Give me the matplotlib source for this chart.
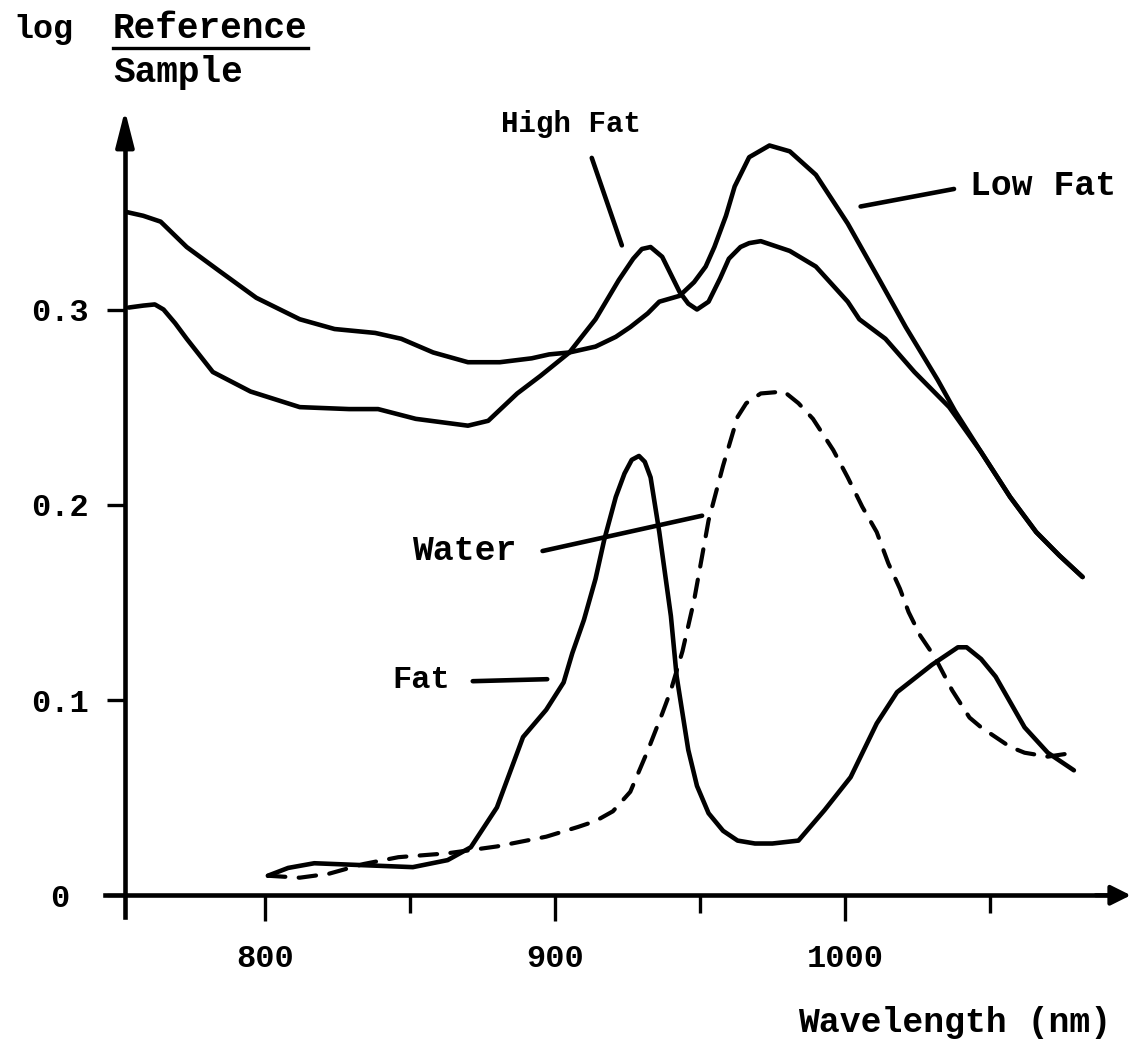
import matplotlib
matplotlib.use("Agg")
import matplotlib.pyplot as plt

# spectra: wavelength (nm) and log(Reference/Sample)
low_fat_wl = [752, 758, 764, 773, 784, 797, 812, 824, 838, 847, 858, 870, 881, 892, 898, 905,
              914, 921, 926, 932, 936, 943, 948, 952, 955, 959, 962, 967, 974, 981, 990, 1001,
              1012, 1021, 1032, 1038, 1047, 1057, 1066, 1074, 1082]
low_fat_val = [0.350, 0.348, 0.345, 0.332, 0.320, 0.306, 0.295, 0.290, 0.288, 0.285, 0.278, 0.273,
               0.273, 0.275, 0.277, 0.278, 0.281, 0.286, 0.291, 0.298, 0.304, 0.307, 0.314, 0.322,
               0.332, 0.348, 0.363, 0.378, 0.384, 0.381, 0.369, 0.344, 0.315, 0.291, 0.264, 0.248,
               0.227, 0.204, 0.186, 0.174, 0.163]

high_fat_wl = [753, 758, 762, 765, 769, 773, 782, 795, 812, 829, 839, 852, 870, 877, 887, 895,
               905, 914, 922, 927, 930, 933, 937, 940, 943, 946, 949, 953, 957, 960, 964, 967,
               971, 981, 990, 1001, 1005, 1014, 1024, 1036, 1047, 1057, 1066, 1074, 1082]
high_fat_val = [0.301, 0.302, 0.3026, 0.300, 0.293, 0.285, 0.268, 0.258, 0.250, 0.249, 0.249,
                0.244, 0.2405, 0.243, 0.257, 0.266, 0.278, 0.295, 0.315, 0.326, 0.331, 0.332,
                0.327, 0.318, 0.309, 0.303, 0.300, 0.304, 0.316, 0.326, 0.332, 0.334, 0.335,
                0.330, 0.322, 0.304, 0.295, 0.285, 0.268, 0.250, 0.227, 0.204, 0.186, 0.174, 0.163]

fat_wl = [801, 808, 817, 834, 851, 863, 871, 880, 889, 897, 903, 906, 910, 914, 917, 921, 924,
          926.5, 929, 931, 933, 936, 940, 942, 946, 949, 953, 958, 963, 969, 975, 984, 993, 1002,
          1011, 1018, 1024, 1030, 1035, 1039, 1042, 1047, 1052, 1062, 1070, 1079]
fat_val = [0.010, 0.014, 0.0164, 0.0154, 0.0144, 0.018, 0.0246, 0.045, 0.081, 0.095, 0.109,
           0.124, 0.141, 0.162, 0.182, 0.204, 0.216, 0.223, 0.225, 0.222, 0.214, 0.186, 0.143,
           0.112, 0.0744, 0.056, 0.042, 0.033, 0.028, 0.0265, 0.0265, 0.028, 0.0436, 0.0605,
           0.088, 0.104, 0.111, 0.118, 0.123, 0.127, 0.127, 0.121, 0.112, 0.086, 0.073, 0.064]

water_wl = [801, 812, 822, 834, 846, 863, 880, 897, 908, 914, 920, 926, 932, 937, 940, 944, 948,
            953, 958, 963, 966, 971, 979, 984, 989, 996, 1001, 1006, 1011, 1015, 1019, 1022, 1026,
            1031, 1037, 1043, 1047, 1052, 1057, 1062, 1070, 1079]
water_val = [0.010, 0.009, 0.011, 0.016, 0.0195, 0.0215, 0.025, 0.030, 0.035, 0.038, 0.043,
             0.053, 0.074, 0.093, 0.105, 0.125, 0.151, 0.192, 0.220, 0.245, 0.252, 0.257, 0.258,
             0.252, 0.244, 0.228, 0.214, 0.199, 0.186, 0.170, 0.157, 0.145, 0.133, 0.122, 0.105,
             0.091, 0.086, 0.081, 0.076, 0.073, 0.071, 0.073]

x_ticks = [800, 900, 1000]
x_minor = [850, 950, 1050]
y_ticks = [0, 0.1, 0.2, 0.3]
y_labels = ["0", "0.1", "0.2", "0.3"]

plt.rcParams['font.family'] = ['Liberation Mono', 'DejaVu Sans Mono']
plt.rcParams['font.weight'] = 'bold'

fig = plt.figure(figsize=(11.36, 10.41), dpi=100)
ax = fig.add_axes([0.110, 0.140, 0.881, 0.754])

solid = dict(color='k', lw=3.3, solid_joinstyle='round', solid_capstyle='round')
ax.plot(low_fat_wl, low_fat_val, **solid)
ax.plot(high_fat_wl, high_fat_val, **solid)
ax.plot(fat_wl, fat_val, **solid)
ax.plot(water_wl, water_val, color='k', lw=3, dashes=(4.2, 3.2), dash_capstyle='round')

ax.set_xlim(751.7, 1096.9)
ax.set_ylim(0, 0.402)
for s in ax.spines.values():
    s.set_visible(False)

# axes drawn by hand so they cross a little past the origin
ax.plot([-0.02, 0.99], [0, 0], transform=ax.transAxes, color='k', lw=3.3, clip_on=False)
ax.plot([0, 0], [-0.028, 0.96], transform=ax.transAxes, color='k', lw=3.3, clip_on=False)
ax.annotate('', xy=(0, 1.0), xytext=(0, 0.95), xycoords='axes fraction',
            arrowprops=dict(arrowstyle='-|>,head_length=1.1,head_width=0.28',
                            mutation_scale=20, color='k', lw=3, shrinkA=0, shrinkB=0))
ax.annotate('', xy=(1.005, 0), xytext=(0.97, 0), xycoords='axes fraction',
            arrowprops=dict(arrowstyle='-|>,head_length=0.6,head_width=0.3',
                            mutation_scale=20, color='k', lw=3, shrinkA=0, shrinkB=0))

ax.set_xticks(x_ticks)
ax.set_xticks(x_minor, minor=True)
ax.tick_params(axis='x', which='major', direction='out', length=19, width=2.4, pad=16, labelsize=23)
ax.tick_params(axis='x', which='minor', direction='out', length=13, width=2.4)
ax.set_yticks(y_ticks, y_labels)
ax.tick_params(axis='y', direction='out', length=13, width=2.4, pad=34, labelsize=23)
for lbl in ax.get_yticklabels():
    lbl.set_ha('center')

# labels and leader lines
ax.text(713.1, 0.439, "log", fontsize=24, va='baseline')
ax.text(747.6, 0.439, "Reference", fontsize=26, va='baseline')
ax.plot([747.6, 814.8], [0.4339, 0.4339], color='k', lw=2.4, clip_on=False)
ax.text(747.6, 0.4165, "Sample", fontsize=26, va='baseline')

ax.text(905.7, 0.391, "High Fat", fontsize=21, ha='center', va='baseline')
ax.annotate('', xy=(923.4, 0.3315), xytext=(912.4, 0.379),
            arrowprops=dict(arrowstyle='-', color='k', lw=3.3))
ax.text(1043, 0.3637, "Low Fat", fontsize=25, va='center')
ax.annotate('', xy=(1004.5, 0.3525), xytext=(1038.6, 0.362),
            arrowprops=dict(arrowstyle='-', color='k', lw=3.3))
ax.text(850.7, 0.1767, "Water", fontsize=25, va='center')
ax.annotate('', xy=(951.7, 0.1947), xytext=(894.8, 0.176),
            arrowprops=dict(arrowstyle='-', color='k', lw=3.3))
ax.text(843.8, 0.110, "Fat", fontsize=23, va='center')
ax.annotate('', xy=(898.3, 0.1107), xytext=(870.7, 0.1096),
            arrowprops=dict(arrowstyle='-', color='k', lw=3.3))

ax.text(1092, -0.065, "Wavelength (nm)", fontsize=25, ha='right', va='center')

fig.savefig("out.png", dpi=100)
